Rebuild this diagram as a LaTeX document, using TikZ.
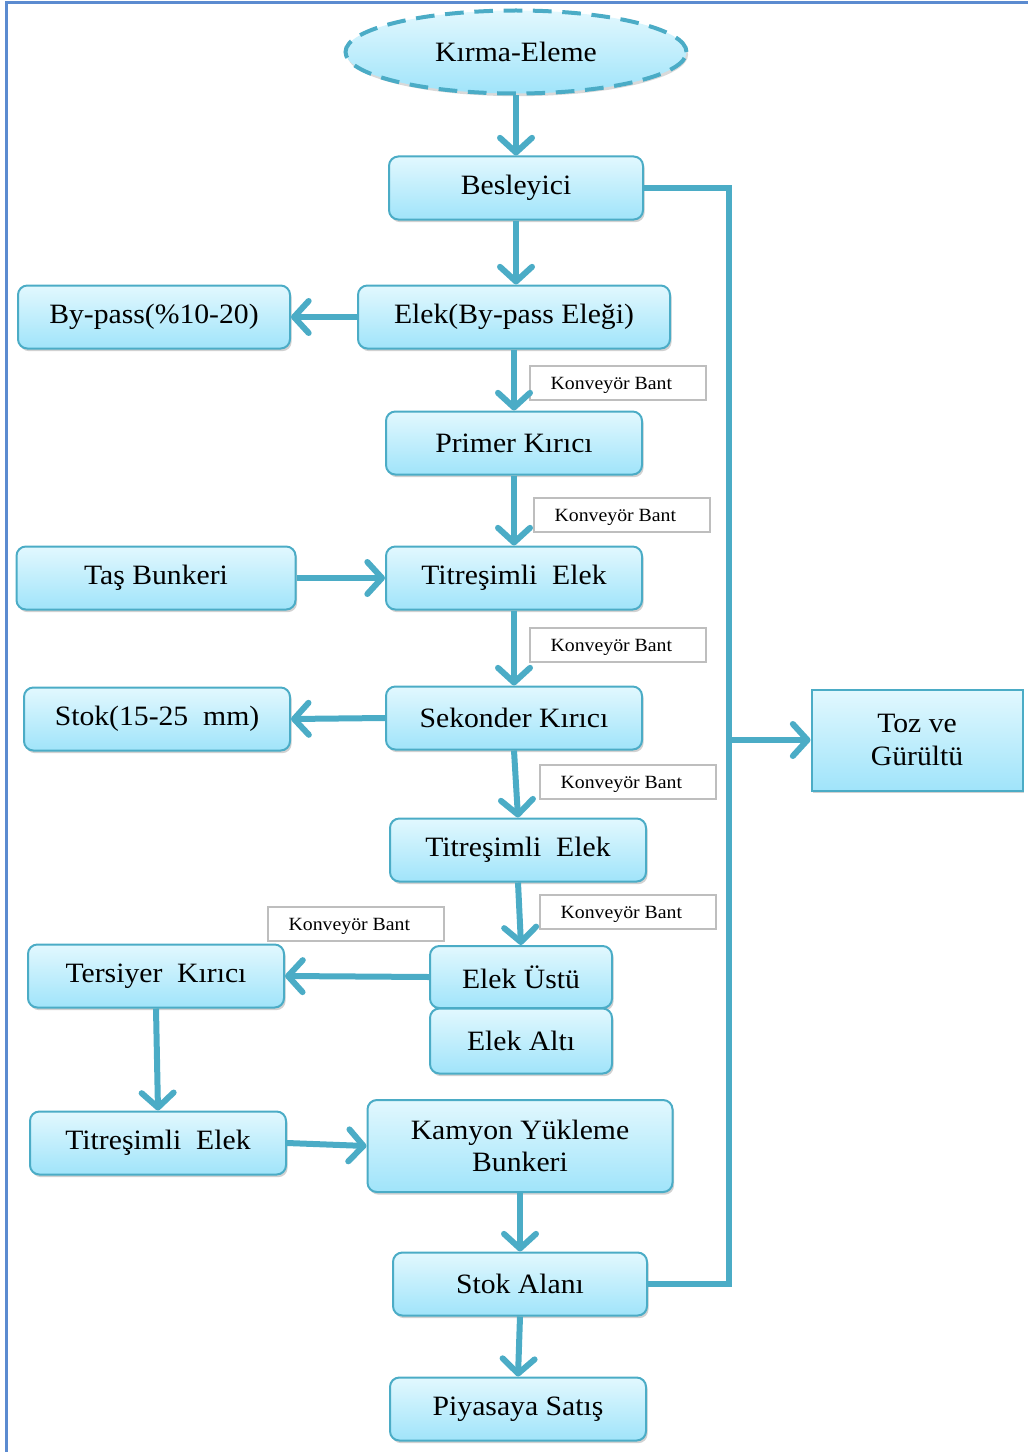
\documentclass[tikz,border=0pt]{standalone}
\usepackage{fontspec}
\setmainfont{Liberation Serif}[FakeStretch=1.06]
\usetikzlibrary{arrows.meta,shadows,shapes.geometric}
\definecolor{teal1}{RGB}{75,172,198}
\definecolor{topc}{RGB}{226,248,254}
\definecolor{botc}{RGB}{160,228,250}
\definecolor{framec}{RGB}{91,139,208}
\definecolor{kbgray}{RGB}{190,190,190}
\tikzset{
  flowbox/.style={draw=teal1, line width=1.5pt, rounded corners=7pt,
    top color=topc, bottom color=botc, align=center, inner sep=0pt,
    font=\fontsize{21}{24.5}\selectfont,
    drop shadow={shadow xshift=1.2pt, shadow yshift=-2pt, opacity=0.3, fill=black!60}},
  sqbox/.style={flowbox, rounded corners=0pt},
  kbbox/.style={draw=kbgray, line width=1.2pt, fill=white, inner sep=0pt,
    minimum width=132pt, minimum height=25.5pt},
  kbtext/.style={font=\fontsize{14}{16}\selectfont, inner sep=0pt},
  conn/.style={draw=teal1, line width=4.5pt},
  arr/.style={conn, -{Straight Barb[length=11pt,width=24pt,round]}},
}
\begin{document}
\begin{tikzpicture}[x=0.75pt,y=-0.75pt]
\useasboundingbox (0,0) rectangle (1028,1452);
% frame
\draw[framec, line width=2.2pt] (6.5,1452) -- (6.5,2.5) -- (1028,2.5);

% nodes
\node[ellipse, draw=teal1, line width=3pt, dash pattern=on 14pt off 8pt,
  top color=topc, bottom color=botc, inner sep=0pt,
  minimum width=255.75pt, minimum height=62.25pt,
  font=\fontsize{21}{24.5}\selectfont,
  drop shadow={shadow xshift=1.2pt, shadow yshift=-2pt, opacity=0.25, fill=black!60}]
  (km) at (516,52) {Kırma-Eleme};
\node[flowbox, minimum width=190.5pt, minimum height=47.25pt] (bes) at (516,188) {Besleyici};
\node[flowbox, minimum width=234pt, minimum height=47.25pt] (elek) at (514,317) {Elek(By-pass Eleği)};
\node[flowbox, minimum width=204pt, minimum height=47.25pt] (byp) at (154,317) {By-pass(\%10-20)};
\node[flowbox, minimum width=192pt, minimum height=47.25pt] (prim) at (514,443) {Primer Kırıcı};
\node[flowbox, minimum width=209.25pt, minimum height=47.25pt] (tas) at (156,578) {Taş Bunkeri};
\node[flowbox, minimum width=192pt, minimum height=47.25pt] (tit1) at (514,578) {Titreşimli\ \ Elek};
\node[flowbox, minimum width=199.5pt, minimum height=47.25pt] (stok) at (157,719) {Stok(15-25\ \ mm)};
\node[flowbox, minimum width=192pt, minimum height=47.25pt] (sek) at (514,718) {Sekonder Kırıcı};
\node[flowbox, minimum width=192pt, minimum height=47.25pt] (tit2) at (518,850) {Titreşimli\ \ Elek};
\node[flowbox, minimum width=192pt, minimum height=47.25pt] (ter) at (156,976) {Tersiyer\ \ Kırıcı};
\node[flowbox, minimum width=136.5pt, minimum height=46.5pt] (ust) at (521,977) {Elek Üstü};
\node[flowbox, minimum width=136.5pt, minimum height=48.75pt] (alt) at (521,1041) {Elek Altı};
\node[flowbox, minimum width=192pt, minimum height=47.25pt] (tit3) at (158,1143) {Titreşimli\ \ Elek};
\node[flowbox, minimum width=228.75pt, minimum height=69pt] (kam) at (520,1146) {Kamyon Yükleme\\Bunkeri};
\node[flowbox, minimum width=190.5pt, minimum height=47.25pt] (sa) at (520,1284) {Stok Alanı};
\node[flowbox, minimum width=192pt, minimum height=47.25pt] (piy) at (518,1409) {Piyasaya Satış};
\node[sqbox, minimum width=158.25pt, minimum height=75.75pt] (toz) at (917,740) {Toz ve\\Gürültü};

% conveyor labels
\node[kbbox] (kb1) at (618,383) {};
\node[kbbox] (kb2) at (622,515) {};
\node[kbbox] (kb3) at (618,645) {};
\node[kbbox] (kb4) at (628,782) {};
\node[kbbox] (kb5) at (628,912) {};
\node[kbbox] (kb6) at (356,924) {};
\foreach \k in {kb1,kb2,kb3,kb4,kb5,kb6}
  \node[kbtext] at ([xshift=-5pt,yshift=-1.5pt]\k.center) {Konveyör Bant};

% connectors
\coordinate (rx) at (729,0);
\coordinate (tj) at (729,740);
\draw[arr] (km.south) -- (bes.north);
\draw[arr] (bes.south) -- (bes.south |- elek.north);
\draw[arr] (elek.west) -- (byp.east);
\draw[arr] (elek.south) -- (prim.north);
\draw[arr] (prim.south) -- (tit1.north);
\draw[arr] (tas.east) -- (tit1.west);
\draw[arr] (tit1.south) -- (sek.north);
\draw[arr] (sek.west) -- (stok.east);
\draw[arr] (sek.south) -- (tit2.north);
\draw[arr] (tit2.south) -- (ust.north);
\draw[arr] (ust.west) -- (ter.east);
\draw[arr] (ter.south) -- (tit3.north);
\draw[arr] (tit3.east) -- (kam.west);
\draw[arr] (kam.south) -- (sa.north);
\draw[arr] (sa.south) -- (piy.north);
\draw[conn, line cap=butt] (bes.east) -- (bes.east -| rx) -- (sa.east -| rx) -- (sa.east);
\draw[arr] (tj) -- (toz.west);
\end{tikzpicture}
\end{document}
